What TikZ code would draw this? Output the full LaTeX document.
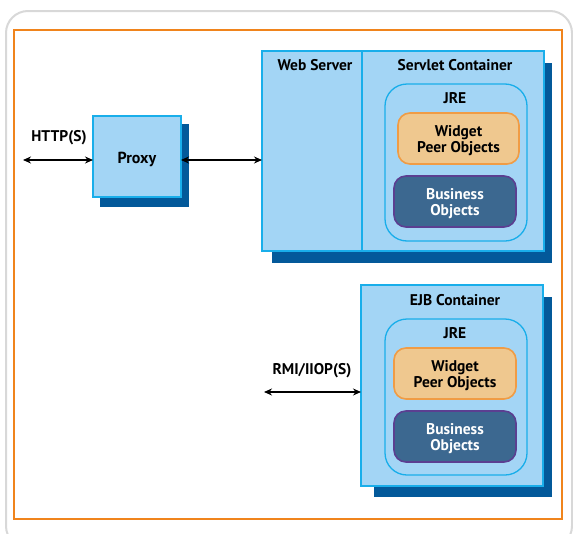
\documentclass[tikz,border=0pt]{standalone}
\usepackage{fontspec}
\setmainfont{PT Sans}
\usetikzlibrary{fit,arrows.meta}
\definecolor{boxfill}{HTML}{A3D5F5}
\definecolor{boxline}{HTML}{19AEEA}
\definecolor{shadowc}{HTML}{03599A}
\definecolor{widgetfill}{HTML}{EFC88F}
\definecolor{widgetline}{HTML}{F09C45}
\definecolor{busfill}{HTML}{3C6890}
\definecolor{busline}{HTML}{5B3F91}
\definecolor{framec}{HTML}{F0841C}
\definecolor{grayc}{HTML}{D8D8D8}
\tikzset{
  box/.style={draw=boxline, fill=boxfill, line width=1.6pt, inner sep=0pt, outer sep=0pt},
  shadowbox/.style={fill=shadowc, draw=none, inner sep=0pt, outer sep=0pt},
  jrebox/.style={draw=boxline, fill=boxfill, line width=1.3pt, rounded corners=22pt, inner sep=0pt, outer sep=0pt},
  widgetbox/.style={draw=widgetline, fill=widgetfill, line width=1.6pt, rounded corners=12pt, inner sep=0pt, outer sep=0pt},
  busbox/.style={draw=busline, fill=busfill, line width=1.6pt, rounded corners=12pt, inner sep=0pt, outer sep=0pt},
  lbl/.style={font=\fontsize{15.5}{16.5}\selectfont\bfseries, inner sep=0pt},
  two/.style={lbl, align=center, yshift=-2pt},
  arr/.style={{Stealth[length=8pt,width=7pt]}-{Stealth[length=8pt,width=7pt]}, line width=1.6pt, black},
}
\begin{document}
\begin{tikzpicture}[x=1pt,y=-1pt]
\useasboundingbox (0,0) rectangle (573,533);
\draw[grayc, line width=2pt, rounded corners=22pt] (6,11) rectangle (572,548);
\draw[framec, line width=1.8pt] (14,30) rectangle (562,519);
% shadows
\node[shadowbox, fit={(100,124) (189,207)}] (proxysh) {};
\node[shadowbox, fit={(272,63) (552,263)}] (websh) {};
\node[shadowbox, fit={(374,297) (552,497)}] (ejbsh) {};
% proxy
\node[box, fit={(93,116) (181,197)}] (proxy) {};
\node[lbl, font=\fontsize{16}{17}\selectfont\bfseries, yshift=-3pt] (proxylbl) at (proxy.center) {Proxy};
% web server + servlet container
\node[box, fit={(262,51) (362,251)}] (web) {};
\node[box, fit={(362,51) (544,251)}] (servlet) {};
\node[lbl] (weblbl) at (315,65) {Web Server};
\node[lbl] (servletlbl) at (455,65) {Servlet Container};
\node[jrebox, fit={(385,84) (527,241)}] (jre1) {};
\node[lbl] (jre1lbl) at (455,98) {JRE};
\node[widgetbox, fit={(398,113) (519,164)}] (w1) {};
\node[two] (w1lbl) at (w1.center) {Widget\\Peer Objects};
\node[busbox, fit={(394,176) (516,227)}] (b1) {};
\node[two, text=white] (b1lbl) at (b1.center) {Business\\Objects};
% ejb container
\node[box, fit={(361,285) (543,486)}] (ejb) {};
\node[lbl] (ejblbl) at (455,300) {EJB Container};
\node[jrebox, fit={(385,319) (527,475)}] (jre2) {};
\node[lbl] (jre2lbl) at (455,333) {JRE};
\node[widgetbox, fit={(394,348) (516,399)}] (w2) {};
\node[two] (w2lbl) at (w2.center) {Widget\\Peer Objects};
\node[busbox, fit={(394,411) (516,462)}] (b2) {};
\node[two, text=white] (b2lbl) at (b2.center) {Business\\Objects};
% arrows
\coordinate (hl) at (23,160);
\coordinate (rl) at (264,392);
\draw[arr] (hl) -- (hl -| proxy.west);
\draw[arr] (proxy.east |- hl) -- (hl -| web.west);
\draw[arr] (rl) -- (rl -| ejb.west);
\node[lbl] (httplbl) at (59,138) {HTTP(S)};
\node[lbl] (rmilbl) at (312,371) {RMI/IIOP(S)};
\end{tikzpicture}
\end{document}
